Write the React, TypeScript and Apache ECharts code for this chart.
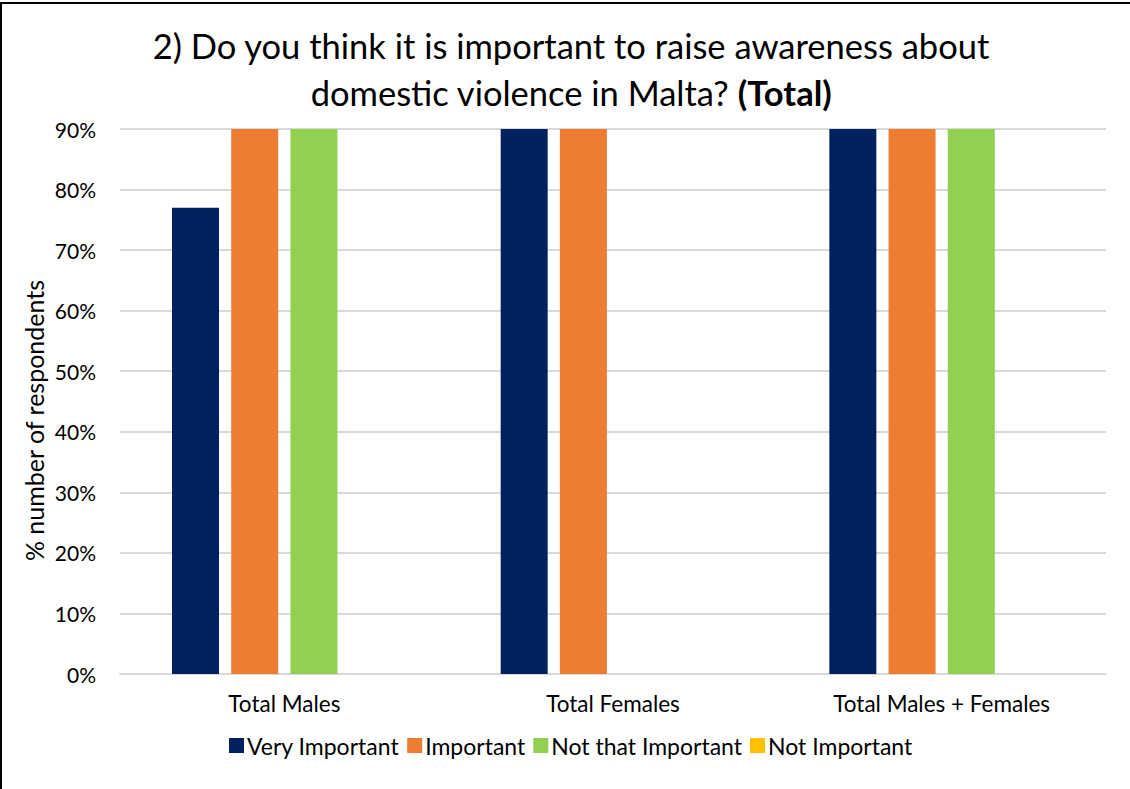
import React, { useEffect, useRef } from "react";
import * as echarts from "echarts";

const categories = ["Total Males", "Total Females", "Total Males + Females"];
const veryImportant = [77, 100, 100];
const important = [100, 100, 100];
const notThatImportant = [100, 0, 100];
const notImportant = [0, 0, 0];
const seriesNames = ["Very Important", "Important", "Not that Important", "Not Important"];
const colors = ["#002060", "#ED7D31", "#92D050", "#FFC000"];

const FONT = "Lato, 'Open Sans', sans-serif";

export default function App() {
  const ref = useRef<HTMLDivElement>(null);
  useEffect(() => {
    document.body.style.margin = "0";
    const chart = echarts.init(ref.current!, null, { renderer: "svg" });
    const data = [veryImportant, important, notThatImportant, notImportant];
    chart.setOption({
      animation: false,
      backgroundColor: "#ffffff",
      textStyle: { fontFamily: FONT },
      title: {
        text: "2) Do you think it is important to raise awareness about\ndomestic violence in Malta? {b|(Total)}",
        left: 566,
        top: 17,
        textAlign: "center",
        textStyle: {
          fontFamily: FONT,
          fontSize: 34.5,
          fontWeight: "normal",
          color: "#000000",
          lineHeight: 47,
          rich: {
            b: { fontFamily: FONT, fontSize: 34.5, fontWeight: "bold", color: "#000000", lineHeight: 47 },
          },
        },
      },
      legend: {
        top: 729,
        left: 224,
        itemWidth: 15,
        itemHeight: 15,
        itemGap: 8,
        icon: "rect",
        textStyle: { fontFamily: FONT, fontSize: 23, color: "#000000", padding: [0, 0, 0, -2] },
        data: seriesNames,
      },
      grid: { left: 120, right: 24, top: 129, bottom: 115 },
      xAxis: {
        type: "category",
        data: categories,
        axisLine: { lineStyle: { color: "#d9d9d9", width: 2 } },
        axisTick: { show: false },
        axisLabel: { fontFamily: FONT, fontSize: 22.5, color: "#000000", margin: 18 },
      },
      yAxis: {
        type: "value",
        min: 0,
        max: 90,
        interval: 10,
        name: "% number of respondents",
        nameLocation: "middle",
        nameGap: 74,
        nameMoveOverlap: false,
        nameTextStyle: { fontFamily: FONT, fontSize: 25, color: "#000000", padding: [0, 38, 0, 0] },
        axisLabel: { formatter: "{value}%", fontFamily: FONT, fontSize: 21, color: "#000000", margin: 24 },
        splitLine: { lineStyle: { color: "#d9d9d9", width: 2 } },
        axisLine: { show: false },
        axisTick: { show: false },
      },
      series: seriesNames.map((name, i) => ({
        name,
        type: "bar",
        data: data[i],
        barWidth: 47,
        barGap: "26%",
        clip: true,
        itemStyle: { color: colors[i] },
      })),
      graphic: [
        {
          type: "rect",
          shape: { x: 1, y: 3, width: 1160, height: 820 },
          style: { fill: "none", stroke: "#000000", lineWidth: 2 },
          silent: true,
        },
      ],
    });
    return () => chart.dispose();
  }, []);
  return <div ref={ref} style={{ position: "absolute", left: 0, top: 0, width: 1130, height: 789 }} />;
}
